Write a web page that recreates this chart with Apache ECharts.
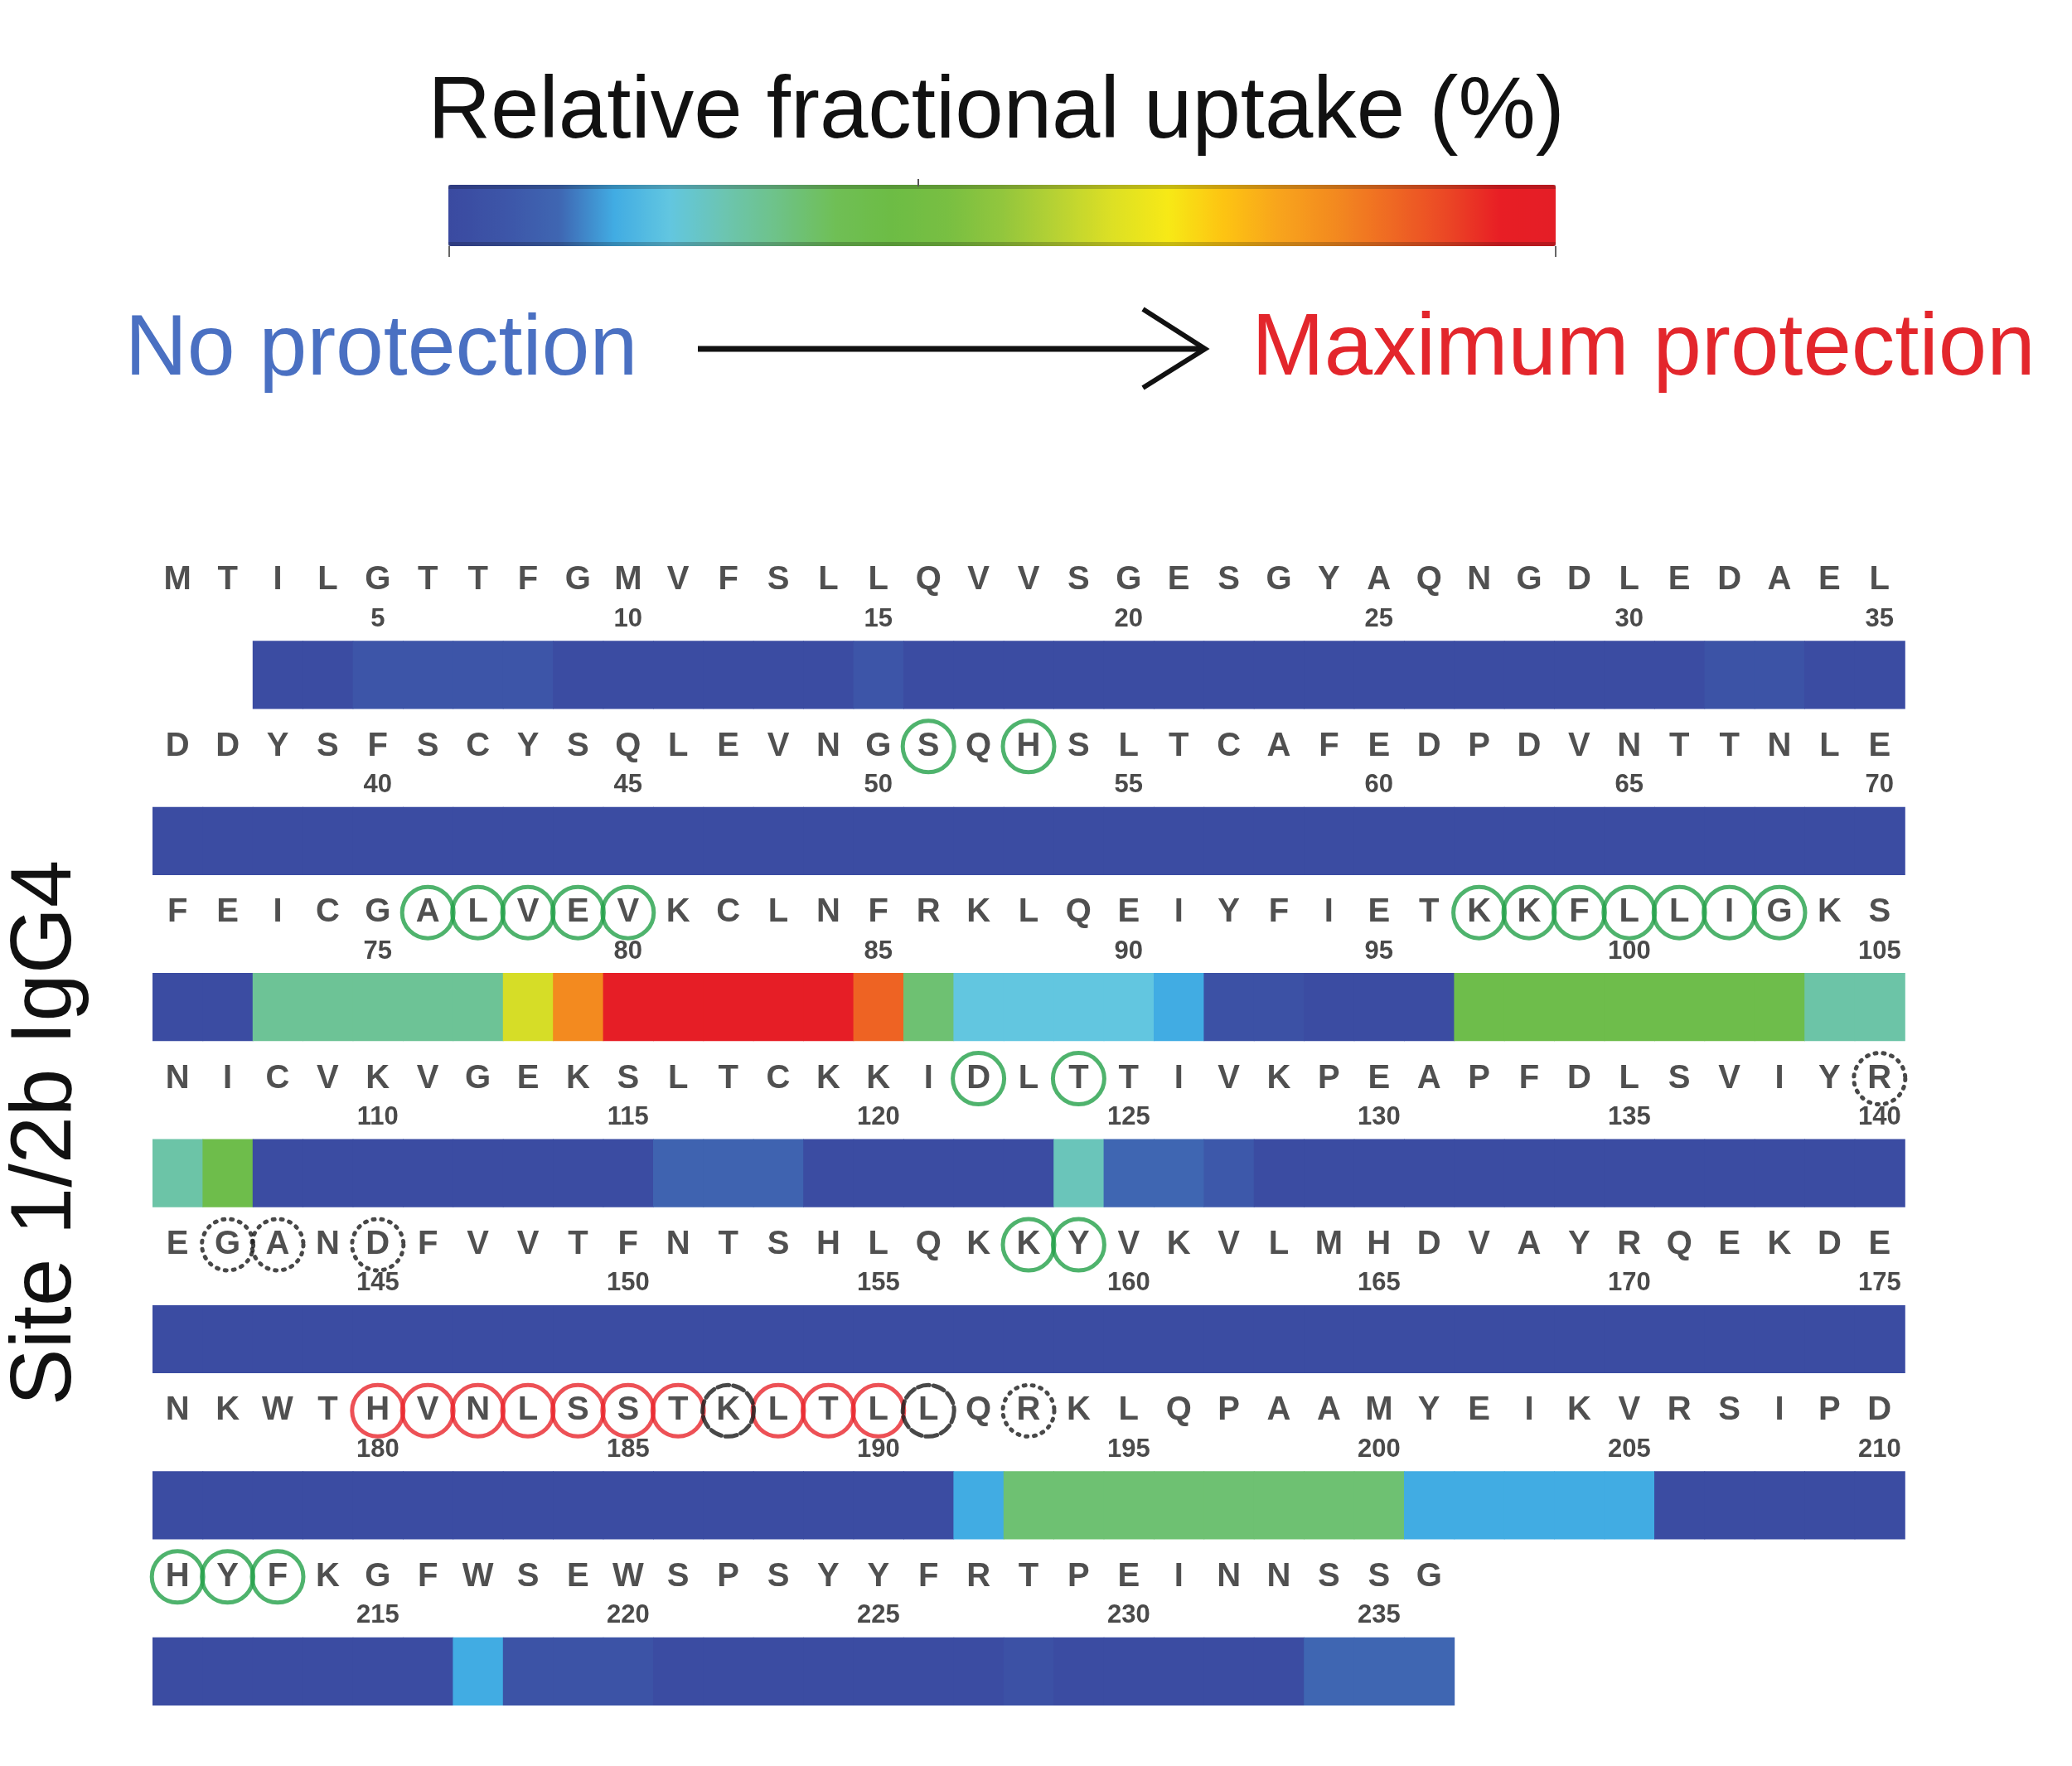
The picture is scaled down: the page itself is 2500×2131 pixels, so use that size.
<!DOCTYPE html>
<html><head><meta charset="utf-8">
<script src="https://cdn.jsdelivr.net/npm/echarts@6/dist/echarts.min.js"></script>
<style>html,body{margin:0;padding:0;background:#fff}#chart{width:2500px;height:2131px}</style>
</head><body><div id="chart"></div>
<script>
// ---------------- DATA ----------------
const rowSequences = [
  "MTILGTTFGMVFSLLQVVSGESGYAQNGDLEDAEL",
  "DDYSFSCYSQLEVNGSQHSLTCAFEDPDVNTTNLE",
  "FEICGALVEVKCLNFRKLQEIYFIETKKFLLIGKS",
  "NICVKVGEKSLTCKKIDLTTIVKPEAPFDLSVIYR",
  "EGANDFVVTFNTSHLQKKYVKVLMHDVAYRQEKDE",
  "NKWTHVNLSSTKLTLLQRKLQPAAMYEIKVRSIPD",
  "HYFKGFWSEWSPSYYFRTPEINNSSG"
];
// relative fractional uptake (%) per residue, row by row (null = no coverage)
const uptakeRow1 = [null,null,1,1,5,5,5,5,1,1,1,1,1,1,5,1,1,1,1,1,1,1,1,1,1,1,1,1,1,1,1,4,4,1,1];
const uptakeRow2 = [1,1,1,1,1,1,1,1,1,1,1,1,1,1,1,1,1,1,1,1,1,1,1,1,1,1,1,1,1,1,1,1,1,1,1];
const uptakeRow3 = [1,1,28,28,28,28,28,59,80,98,98,98,98,98,86,32,20,20,20,20,15,3,3,1,1,1,38,38,38,38,38,38,38,26,26];
const uptakeRow4 = [26,38,1,1,1,1,1,1,1,1,9,9,9,1,1,1,1,1,24,10,10,6,1,1,1,1,1,1,1,1,1,1,1,1,1];
const uptakeRow5 = [1,1,1,1,1,1,1,1,1,1,1,1,1,1,1,1,1,1,1,1,1,1,1,1,1,1,1,1,1,1,1,1,1,1,1];
const uptakeRow6 = [1,1,1,1,1,1,1,1,1,1,1,1,1,1,1,1,15,32,32,32,32,32,32,32,32,15,15,15,15,15,1,1,1,1,1];
const uptakeRow7 = [1,1,1,1,1,1,15,4,4,4,1,1,1,1,1,1,1,3,1,1,1,1,1,10,10,10];
const uptakeRows = [uptakeRow1, uptakeRow2, uptakeRow3, uptakeRow4, uptakeRow5, uptakeRow6, uptakeRow7];

// circled residues
const greenSites = [51,53,76,77,78,79,80,97,98,99,100,101,102,103,122,124,158,159,211,212,213];
const redSites = [180,181,182,183,184,185,186,188,189,190];
const blackSites = [187,191];
const dottedSites = [140,142,143,145,193];

const tickStep = 5;
const uptakeMin = 0, uptakeMax = 100;
const colorScale = ['#3A4AA0','#3D55A8','#3F66B2','#41ACE3','#62C6E0','#6CC5B0','#6EC285','#6FBF55','#6DBC45','#78BF42','#92C63D','#B8D233','#DDE024','#F7E916','#FDC412','#F8A41C','#F38A1F','#EF6A23','#EB4825','#E81E25','#E41E26'];

// ---------------- LAYOUT CONSTANTS ----------------
const PER_ROW = 35;
const BAR_FRAC = 0.41;
const LETTER_OFF = -0.569;
const NUMBER_OFF = -0.335;
const FONT = '"Liberation Sans", Arial, Helvetica, sans-serif';

// ---------------- BUILD ----------------
const barData = [];
uptakeRows.forEach((row, r) => row.forEach((v, c) => { if (v != null) barData.push([c, r, v]); }));

const letterData = [], letterText = [];
const numberData = [], numberText = [];
rowSequences.forEach((seq, r) => seq.split('').forEach((ch, c) => {
  letterData.push([c + 0.5, r + LETTER_OFF]); letterText.push(ch);
  const n = r * PER_ROW + c + 1;
  if (n % tickStep === 0) { numberData.push([c + 0.5, r + NUMBER_OFF]); numberText.push(String(n)); }
}));
function sitePoints(list) {
  return list.map(n => { const r = Math.floor((n - 1) / PER_ROW), c = (n - 1) % PER_ROW; return [c + 0.5, r + LETTER_OFF]; });
}

function textItem(textArr, font, color) {
  return function (params, api) {
    const p = api.coord([api.value(0), api.value(1)]);
    return { type: 'text', x: p[0], y: p[1], style: {
      text: textArr[params.dataIndex], font: font, fill: color,
      align: 'center', verticalAlign: 'middle', textAlign: 'center', textVerticalAlign: 'middle' } };
  };
}
function ring(name, data, color, width, type) {
  return { type: 'scatter', name: name, data: data, symbol: 'circle', symbolSize: 62, silent: true, z: 5,
    itemStyle: { color: 'rgba(0,0,0,0)', borderColor: color, borderWidth: width, borderType: type || 'solid', borderCap: 'round' } };
}

const chart = echarts.init(document.getElementById('chart'), null, { renderer: 'canvas', width: 2500, height: 2131 });
const T = (txt, x, y, size, color, extra) => Object.assign({ type: 'text', x: x, y: y, z: 10, silent: true,
  style: { text: txt, font: size + 'px ' + FONT, fill: color, align: 'center', verticalAlign: 'middle', textAlign: 'center', textVerticalAlign: 'middle' } }, extra || {});

chart.setOption({
  animation: false,
  backgroundColor: '#ffffff',
  grid: { left: 184, top: 614, width: 2114, height: 1503 },
  xAxis: { type: 'value', min: 0, max: PER_ROW, show: false },
  yAxis: { type: 'value', min: -1, max: 6.5, inverse: true, show: false },
  visualMap: {
    type: 'continuous', min: uptakeMin, max: uptakeMax, dimension: 2, seriesIndex: 0,
    orient: 'horizontal', left: 541, top: 223, padding: 0,
    itemWidth: 74, itemHeight: 1336, calculable: false, hoverLink: false,
    inRange: { color: colorScale }
  },
  graphic: [
    T('Relative fractional uptake (%)', 1202, 137, 105, '#111111'),
    T('No protection', 460, 423, 104, '#4A70C2'),
    T('Maximum protection', 1983, 423, 105, '#E3262C'),
    T('Site 1/2b IgG4', 57, 1367, 103, '#111111', { rotation: Math.PI / 2 }),
    { type: 'line', z: 10, silent: true, shape: { x1: 842, y1: 421, x2: 1452, y2: 421 }, style: { stroke: '#111', lineWidth: 7 } },
    { type: 'polyline', z: 10, silent: true, shape: { points: [[1379, 373], [1454, 421], [1379, 468]] }, style: { stroke: '#111', lineWidth: 6, fill: null } },
    { type: 'rect', z: 10, silent: true, shape: { x: 541, y: 223, width: 1336, height: 5 }, style: { fill: 'rgba(0,0,0,0.2)' } },
    { type: 'rect', z: 10, silent: true, shape: { x: 541, y: 292, width: 1336, height: 5 }, style: { fill: 'rgba(0,0,0,0.2)' } },
    { type: 'line', z: 10, silent: true, shape: { x1: 542, y1: 297, x2: 542, y2: 310 }, style: { stroke: '#666', lineWidth: 2 } },
    { type: 'line', z: 10, silent: true, shape: { x1: 1877, y1: 297, x2: 1877, y2: 310 }, style: { stroke: '#666', lineWidth: 2 } },
    { type: 'line', z: 10, silent: true, shape: { x1: 1108, y1: 216, x2: 1108, y2: 225 }, style: { stroke: '#555', lineWidth: 2 } }
  ],
  series: [
    { type: 'custom', name: 'uptake', data: barData, clip: false, silent: true,
      renderItem: function (params, api) {
        const p = api.coord([api.value(0), api.value(1)]);
        const s = api.size([1, BAR_FRAC]);
        return { type: 'rect', shape: { x: p[0], y: p[1] - s[1] / 2, width: s[0] + 0.8, height: s[1] },
          style: { fill: api.visual('color') } };
      } },
    { type: 'custom', name: 'letters', data: letterData, clip: false, silent: true, z: 4,
      renderItem: textItem(letterText, 'bold 40px ' + FONT, '#505050') },
    { type: 'custom', name: 'numbers', data: numberData, clip: false, silent: true, z: 4,
      renderItem: textItem(numberText, 'bold 31px ' + FONT, '#4a4a4a') },
    ring('green', sitePoints(greenSites), '#23A048', 5),
    ring('red', sitePoints(redSites), '#E8262C', 5),
    ring('black', sitePoints(blackSites), '#1a1a1a', 5, [14, 5]),
    ring('dotted', sitePoints(dottedSites), '#1a1a1a', 5, [2, 8])
  ]
});
</script></body></html>
